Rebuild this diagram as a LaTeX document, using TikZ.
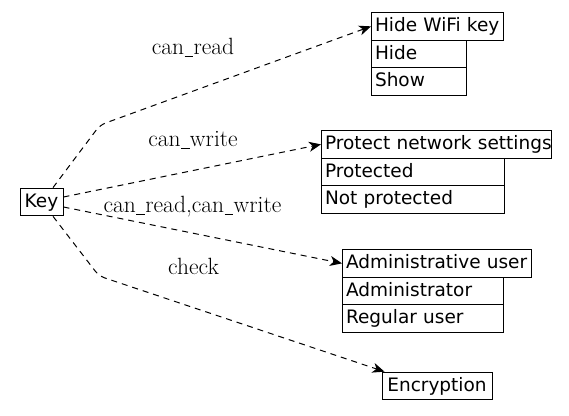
\documentclass[tikz,border=0pt]{standalone}
\usepackage{fontspec}
\newfontfamily\dvs{DejaVu Sans}
\usetikzlibrary{arrows.meta}
\newcommand\usc{\kern0.02em\rule[-0.1em]{0.36em}{0.045em}\kern0.02em}
\begin{document}
\begin{tikzpicture}[x=1pt,y=-1pt,
 box/.style={draw,line width=1pt,inner xsep=3.5pt,inner ysep=0pt,
   font=\dvs\fontsize{18.5}{22}\selectfont,align=left,anchor=north west,
   minimum height=27.7pt,text height=14pt,text depth=3.6pt},
 cbox/.style={draw,line width=1pt,inner xsep=3.5pt,inner ysep=0pt,
   font=\dvs\fontsize{18.5}{22}\selectfont,
   minimum height=27.7pt,text height=14pt,text depth=3.6pt},
 lbl/.style={font=\fontsize{23.5}{27}\selectfont,inner sep=0pt},
 edge/.style={line width=1pt,dash pattern=on 6pt off 5pt,rounded corners=6pt,
   -{Stealth[length=12pt,width=10pt,inset=3.5pt]}}]
\useasboundingbox (0,0) rectangle (569,415);
% Key
\node[cbox,minimum width=43pt] (key) at (41.5,202) {Key};
% Hide WiFi key
\node[box,text width=125pt] (hw) at (371,12) {\mbox{Hide WiFi key}};
\node[box,text width=88pt] (hw1) at (371,39.7) {\mbox{Hide}};
\node[box,text width=88pt] (hw2) at (371,67.4) {\mbox{Show}};
% Protect network settings
\node[box,text width=223pt] (pn) at (321,130) {\mbox{Protect network settings}};
\node[box,text width=176pt] (pn1) at (321,157.7) {\mbox{Protected}};
\node[box,text width=176pt] (pn2) at (321,185.4) {\mbox{Not protected}};
% Administrative user
\node[box,text width=182pt] (au) at (342,249) {\mbox{Administrative user}};
\node[box,text width=154pt] (au1) at (342,276.7) {\mbox{Administrator}};
\node[box,text width=154pt] (au2) at (342,304.4) {\mbox{Regular user}};
% Encryption
\node[cbox,minimum width=110pt] (enc) at (437,386) {Encryption};
% bend points
\coordinate (b1) at (100,125);
\coordinate (b2) at (99,276);
% edges
\draw[edge] ([xshift=11.5pt]key.north) -- (b1) -- (hw.west);
\draw[edge] ([yshift=5pt]key.east) -- (pn.west);
\draw[edge] ([yshift=-5pt]key.east) -- (au.west);
\draw[edge] ([xshift=11.5pt]key.south) -- (b2) -- ([xshift=3pt]enc.north west);
% labels
\node[lbl] (l1) at (193,48) {can\usc read};
\node[lbl] (l2) at (193,140) {can\usc write};
\node[lbl] (l3) at (192.5,207) {can\usc read,can\usc write};
\node[lbl] (l4) at (193.5,266) {check};
\end{tikzpicture}
\end{document}
